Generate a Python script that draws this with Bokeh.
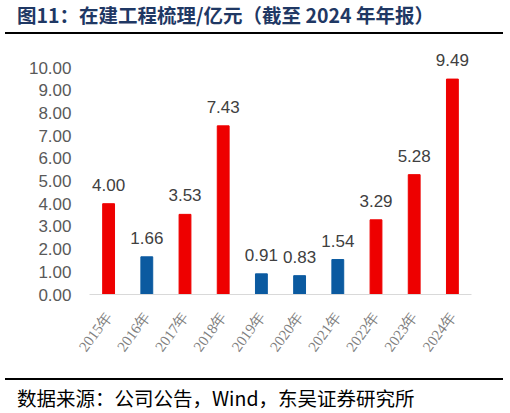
import math
from bokeh.plotting import figure
from bokeh.layouts import column
from bokeh.models import ColumnDataSource, Div, FixedTicker, NumeralTickFormatter
from bokeh.core.properties import value
from bokeh.embed import file_html
from bokeh.resources import INLINE

# data
years = ["2015年", "2016年", "2017年", "2018年", "2019年", "2020年", "2021年", "2022年", "2023年", "2024年"]
amounts = [4.00, 1.66, 3.53, 7.43, 0.91, 0.83, 1.54, 3.29, 5.28, 9.49]
bar_colors = ["#EE0000", "#0B5AA0", "#EE0000", "#EE0000", "#0B5AA0",
              "#0B5AA0", "#0B5AA0", "#EE0000", "#EE0000", "#EE0000"]
y_ticks = [0, 1, 2, 3, 4, 5, 6, 7, 8, 9, 10]

title_text = "图11：在建工程梳理/亿元（截至 2024 年年报）"
source_text = "数据来源：公司公告，Wind，东吴证券研究所"

W = 510

# header: title with a black rule beneath
head = Div(width=W, height=40, margin=0, text=(
    '<div style="position:relative;width:510px;height:40px;margin:0;">'
    '<div style="position:absolute;left:17px;top:3px;white-space:nowrap;'
    "font-family:'Noto Sans CJK SC';font-weight:bold;font-size:19.5px;"
    'line-height:24px;color:#1F3864;">' + title_text + '</div>'
    '<div style="position:absolute;left:5px;top:32px;width:498px;height:2px;'
    'background:#000000;"></div></div>'))

# main chart
source = ColumnDataSource(data=dict(
    year=years,
    amount=amounts,
    color=bar_colors,
    label=["%.2f" % v for v in amounts],
))

p = figure(x_range=years, y_range=(0, 11.19),
           width=W, height=332,
           output_backend="svg", toolbar_location=None,
           min_border_left=89, min_border_right=39,
           min_border_top=0, min_border_bottom=78)
p.outline_line_color = None
p.xgrid.grid_line_color = None
p.ygrid.grid_line_color = None
p.x_range.range_padding = 0

p.vbar(x="year", top="amount", width=0.31, color="color", source=source)
p.text(x="year", y="amount", text="label", source=source,
       text_align="center", text_baseline="bottom", y_offset=-13,
       text_font=value("Liberation Sans"), text_font_size="17px",
       text_color="#404040")

p.yaxis.ticker = FixedTicker(ticks=y_ticks)
p.yaxis.formatter = NumeralTickFormatter(format="0.00")
p.yaxis.axis_line_color = None
p.yaxis.major_tick_line_color = None
p.yaxis.minor_tick_line_color = None
p.yaxis.major_label_standoff = 12
p.yaxis.major_label_text_font = "Liberation Sans"
p.yaxis.major_label_text_font_size = "17px"
p.yaxis.major_label_text_color = "#595959"

p.xaxis.axis_line_color = "#D9D9D9"
p.xaxis.major_tick_line_color = None
p.xaxis.minor_tick_line_color = None
p.xaxis.major_label_orientation = math.radians(54)
p.xaxis.major_label_standoff = 13
p.xaxis.major_label_text_font = "Liberation Serif"
p.xaxis.major_label_text_font_size = "15px"
p.xaxis.major_label_text_color = "#808080"

# footer: black rule and the data source line
foot = Div(width=W, height=41, margin=0, text=(
    '<div style="position:relative;width:510px;height:41px;margin:0;">'
    '<div style="position:absolute;left:5px;top:6px;width:498px;height:2px;'
    'background:#000000;"></div>'
    '<div style="position:absolute;left:17px;top:14px;white-space:nowrap;'
    "font-family:'Noto Sans CJK SC';font-size:19.5px;line-height:24px;"
    'color:#000000;">' + source_text + '</div></div>'))

layout = column(head, p, foot, spacing=0)

open("out.html", "w").write(file_html(layout, INLINE))
